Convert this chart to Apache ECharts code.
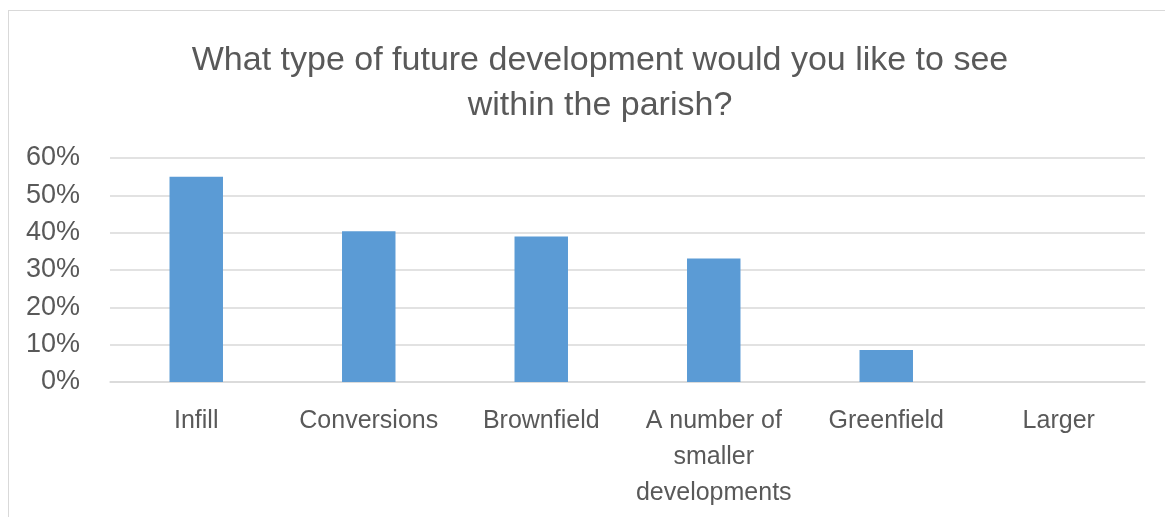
<!DOCTYPE html>
<html>
<head>
<meta charset="utf-8">
<script src="https://cdn.jsdelivr.net/npm/echarts@6/dist/echarts.min.js"></script>
<style>
html,body{margin:0;padding:0;background:#fff;}
#frame{position:absolute;left:8px;top:10px;width:1200px;height:600px;border:1.5px solid #d9d9d9;box-sizing:border-box;}
#chart{position:absolute;left:0;top:0;width:1165px;height:517px;}
</style>
</head>
<body>
<div id="frame"></div>
<div id="chart"></div>
<script>
const titleText = "What type of future development would you like to see\nwithin the parish?";
const categories = ["Infill", "Conversions", "Brownfield", "A number of\nsmaller\ndevelopments", "Greenfield", "Larger"];
const values = [0.55, 0.404, 0.39, 0.331, 0.086, 0];
const yTicks = [0, 0.1, 0.2, 0.3, 0.4, 0.5, 0.6];

const chart = echarts.init(document.getElementById('chart'), null, {renderer: 'canvas'});
const font = '"Liberation Sans", Arial, sans-serif';
chart.setOption({
  animation: false,
  backgroundColor: 'transparent',
  title: {
    text: titleText,
    left: 595,
    top: 33,
    textAlign: 'center',
    textStyle: {fontFamily: font, fontSize: 34, fontWeight: 'normal', color: '#595959', lineHeight: 45}
  },
  grid: {left: 110, right: 20, top: 158, bottom: 135, containLabel: false},
  xAxis: {
    type: 'category',
    data: categories,
    axisLine: {show: true, lineStyle: {color: '#d9d9d9', width: 1.5}},
    axisTick: {show: false},
    axisLabel: {fontFamily: font, fontSize: 25, color: '#595959', margin: 21, lineHeight: 36, interval: 0}
  },
  yAxis: {
    type: 'value',
    min: 0, max: 0.6, interval: 0.1,
    axisLine: {show: false},
    axisTick: {show: false},
    splitLine: {lineStyle: {color: '#d9d9d9', width: 1.5}},
    axisLabel: {fontFamily: font, fontSize: 27, color: '#595959', margin: 30,
      formatter: v => Math.round(v * 100) + '%'}
  },
  series: [{
    type: 'bar',
    data: values,
    barWidth: '31%',
    itemStyle: {color: '#5b9bd5'}
  }]
});
</script>
</body>
</html>
